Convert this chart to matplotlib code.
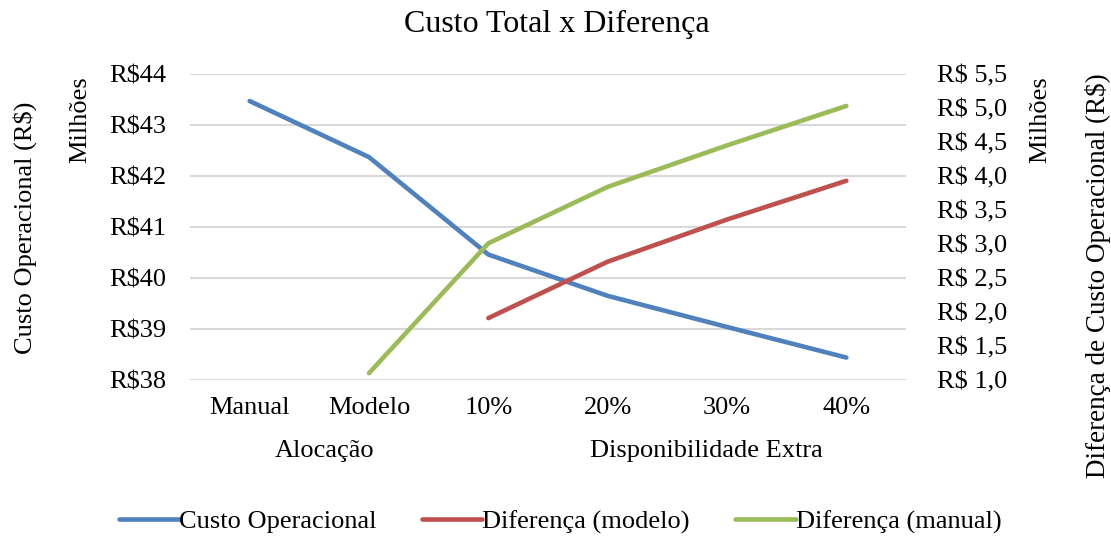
import matplotlib.pyplot as plt
from matplotlib.ticker import FuncFormatter, MultipleLocator
import numpy as np

plt.rcParams['font.family'] = ['Liberation Serif', 'DejaVu Serif']

categorias = ['Manual', 'Modelo', '10%', '20%', '30%', '40%']
grupos = ['Alocação', 'Disponibilidade Extra']
# custo operacional, em milhoes de R$
custo = [43.47, 42.37, 40.46, 39.65, 39.04, 38.44]
# diferencas de custo, em milhoes de R$ (nan onde nao ha valor)
dif_modelo = [np.nan, np.nan, 1.91, 2.74, 3.36, 3.93]
dif_manual = [np.nan, 1.10, 3.01, 3.84, 4.45, 5.03]

AZUL, VERMELHO, VERDE = '#4F81BD', '#C0504D', '#9BBB59'
FS = 19

fig = plt.figure(figsize=(11.11, 5.38), dpi=100)
ax = fig.add_axes([190 / 1111, 1 - 380 / 538, 716 / 1111, 306 / 538])
ax2 = ax.twinx()

x = np.arange(len(categorias))
l1, = ax.plot(x, custo, color=AZUL, lw=3.3, solid_capstyle='round',
              label='Custo Operacional', zorder=3)
l2, = ax2.plot(x, dif_modelo, color=VERMELHO, lw=3.3, solid_capstyle='round',
               label='Diferença (modelo)')
l3, = ax2.plot(x, dif_manual, color=VERDE, lw=3.3, solid_capstyle='round',
               label='Diferença (manual)')

ax.set_xlim(-0.5, len(categorias) - 0.5)
ax.set_ylim(38, 44)
ax2.set_ylim(1.0, 5.5)
ax.yaxis.set_major_locator(MultipleLocator(1))
ax2.yaxis.set_major_locator(MultipleLocator(0.5))
ax.yaxis.set_major_formatter(FuncFormatter(lambda v, p: 'R\\$%d' % round(v)))
ax2.yaxis.set_major_formatter(
    FuncFormatter(lambda v, p: ('R\\$ %.1f' % v).replace('.', ',')))

ax.grid(axis='y', color='#D9D9D9', lw=1.5)
ax.set_axisbelow(True)
for a in (ax, ax2):
    for s in a.spines.values():
        s.set_visible(False)
    a.tick_params(length=0, labelsize=FS)
ax.tick_params(axis='y', pad=17)
ax2.tick_params(axis='y', pad=22)
ax.tick_params(axis='x', pad=12)
ax.set_xticks(x)
ax.set_xticklabels(categorias)

# rotulos de grupo do eixo de categorias
trans = ax.get_xaxis_transform()
ax.text(0.63, -0.233, grupos[0], transform=trans, ha='center', va='center', fontsize=FS)
ax.text(3.83, -0.233, grupos[1], transform=trans, ha='center', va='center', fontsize=FS)

fig.text(0.5015, 0.954, 'Custo Total x Diferença', ha='center', va='center', fontsize=23)
fig.text(25 / 1111, 1 - 228 / 538, 'Custo Operacional (R\\$)', rotation=90,
         ha='center', va='center', fontsize=FS)
fig.text(80 / 1111, 1 - 120 / 538, 'Milhões', rotation=90,
         ha='center', va='center', fontsize=FS)
fig.text(1040 / 1111, 1 - 120 / 538, 'Milhões', rotation=90,
         ha='center', va='center', fontsize=FS)
fig.text(1098 / 1111, 1 - 276 / 538, 'Diferença de Custo Operacional (R\\$)', rotation=90,
         ha='center', va='center', fontsize=19.5)

fig.legend(handles=[l1, l2, l3], loc='center', bbox_to_anchor=(0.504, 0.03),
           ncol=3, frameon=False, fontsize=FS, handlelength=2.3,
           handletextpad=0.0, columnspacing=1.7)

fig.savefig('out.png', dpi=100)
